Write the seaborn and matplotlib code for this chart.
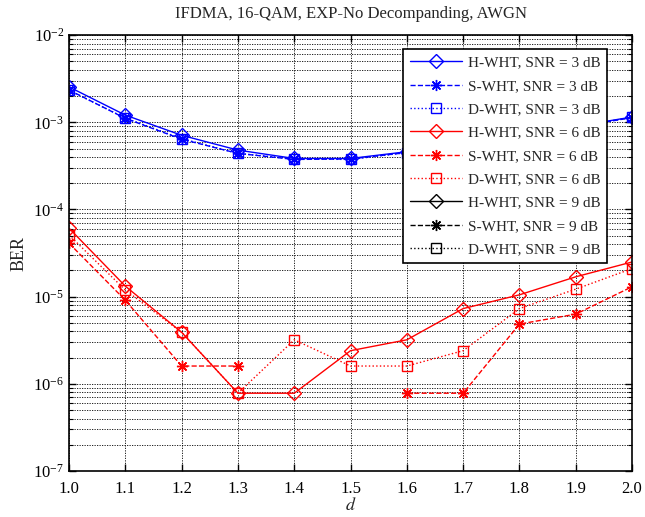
import numpy as np
import pandas as pd
import matplotlib
matplotlib.use("Agg")
import matplotlib.pyplot as plt
import seaborn as sns
from matplotlib.lines import Line2D
from matplotlib.ticker import LogLocator, LogFormatterSciNotation, NullFormatter

# x values
d = [1.0, 1.1, 1.2, 1.3, 1.4, 1.5, 1.6, 1.7, 1.8, 1.9, 2.0]
nan = np.nan

# SNR = 3 dB (1.7 - 1.9 hidden behind legend, estimated)
h_3db = [2.55e-3, 1.21e-3, 7.1e-4, 4.8e-4, 3.85e-4, 3.85e-4, 4.6e-4, 5.6e-4, 7.1e-4, 9.0e-4, 1.15e-3]
s_3db = [2.35e-3, 1.11e-3, 6.4e-4, 4.4e-4, 3.75e-4, 3.80e-4, 4.5e-4, 5.5e-4, 7.0e-4, 8.9e-4, 1.13e-3]
dd_3db = [2.33e-3, 1.12e-3, 6.5e-4, 4.4e-4, 3.80e-4, 3.75e-4, 4.5e-4, 5.5e-4, 7.0e-4, 8.9e-4, 1.14e-3]

# SNR = 6 dB (missing points = no errors counted)
h_6db = [6.1e-5, 1.32e-5, 3.9e-6, 7.8e-7, 7.8e-7, 2.4e-6, 3.2e-6, 7.3e-6, 1.05e-5, 1.69e-5, 2.5e-5]
s_6db = [4.1e-5, 9.1e-6, 1.6e-6, 1.6e-6, nan, nan, 7.8e-7, 7.8e-7, 4.85e-6, 6.3e-6, 1.3e-5]
dd_6db = [5.1e-5, 1.19e-5, 3.9e-6, 7.8e-7, 3.2e-6, 1.6e-6, 1.6e-6, 2.4e-6, 7.3e-6, 1.22e-5, 2.1e-5]

# SNR = 9 dB: no errors, nothing visible on the log axis
h_9db = [nan] * 11
s_9db = [nan] * 11
dd_9db = [nan] * 11

series = [
    ("H-WHT, SNR = 3 dB", h_3db, "blue", "-", "D"),
    ("S-WHT, SNR = 3 dB", s_3db, "blue", "--", (8, 2, 0)),
    ("D-WHT, SNR = 3 dB", dd_3db, "blue", ":", "s"),
    ("H-WHT, SNR = 6 dB", h_6db, "red", "-", "D"),
    ("S-WHT, SNR = 6 dB", s_6db, "red", "--", (8, 2, 0)),
    ("D-WHT, SNR = 6 dB", dd_6db, "red", ":", "s"),
    ("H-WHT, SNR = 9 dB", h_9db, "black", "-", "D"),
    ("S-WHT, SNR = 9 dB", s_9db, "black", "--", (8, 2, 0)),
    ("D-WHT, SNR = 9 dB", dd_9db, "black", ":", "s"),
]

sns.set_style("ticks")
plt.rcParams['font.family'] = ['Liberation Serif', 'DejaVu Serif']
plt.rcParams['mathtext.fontset'] = 'stix'

fig = plt.figure(figsize=(6.45, 5.17), dpi=100)
ax = fig.add_axes([0.107, 0.089, 0.873, 0.843])

msize = {"D": 7, "s": 7}
handles = []
for label, vals, color, ls, mk in series:
    df = pd.DataFrame({"d": d, "BER": vals})
    # split into contiguous runs so gaps (zero BER) are not bridged
    df["seg"] = df["BER"].isna().cumsum()
    df = df.dropna()
    ms = msize.get(mk, 8) if isinstance(mk, str) else 8
    for _, part in df.groupby("seg"):
        sns.lineplot(data=part, x="d", y="BER", ax=ax, color=color, linestyle=ls,
                     linewidth=1.0, marker=mk, markersize=ms, markerfacecolor="none",
                     markeredgecolor=color, markeredgewidth=1.0, estimator=None,
                     sort=False, legend=False)
    handles.append(Line2D([], [], color=color, linestyle=ls, linewidth=1.0, marker=mk,
                          markersize=ms, markerfacecolor="none", markeredgecolor=color,
                          markeredgewidth=1.0, label=label))

ax.set_yscale("log")
ax.set_xlim(1.0, 2.0)
ax.set_ylim(1e-7, 1e-2)
ax.set_xticks(d)
ax.set_xticklabels([f"{v:.1f}" for v in d])
ax.yaxis.set_major_locator(LogLocator(base=10, numticks=10))
ax.yaxis.set_major_formatter(LogFormatterSciNotation())
ax.yaxis.set_minor_locator(LogLocator(base=10, subs=np.arange(2, 10), numticks=20))
ax.yaxis.set_minor_formatter(NullFormatter())

ax.grid(True, which="major", axis="both", color="black", linestyle=(0, (1.5, 1.5)), linewidth=0.6)
ax.grid(True, which="minor", axis="y", color="black", linestyle=(0, (1.5, 1.5)), linewidth=0.6)

ax.tick_params(which="both", direction="in", top=True, right=True, labelsize=12, colors="black")
ax.tick_params(which="major", length=5, width=1)
ax.tick_params(which="minor", length=3, width=0.8)
ax.tick_params(axis="x", pad=7)
for sp in ax.spines.values():
    sp.set_linewidth(1.2)
    sp.set_color("black")

ax.set_title("IFDMA, 16-QAM, EXP-No Decompanding, AWGN", fontsize=12, pad=12)
ax.set_ylabel("BER", fontsize=13)
ax.set_xlabel("$d$", fontsize=13, labelpad=0)

leg = ax.legend(handles=handles, loc="upper right", bbox_to_anchor=(0.956, 0.968),
                borderaxespad=0, fontsize=11, frameon=True, fancybox=False, framealpha=1,
                edgecolor="black", handlelength=3.4, labelspacing=0.63,
                borderpad=0.45, handletextpad=0.4)
leg.get_frame().set_linewidth(1.2)

fig.savefig("out.png", dpi=100)
